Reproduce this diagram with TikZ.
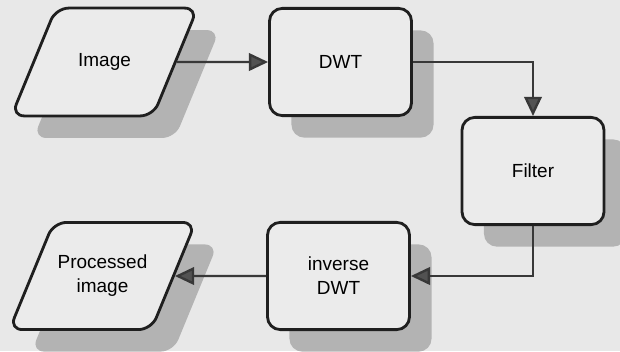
\documentclass[tikz,border=0pt]{standalone}
\usepackage{fontspec}
\setmainfont{Liberation Sans}
\usetikzlibrary{shapes.geometric,arrows.meta,shadows}
\definecolor{bg}{HTML}{E8E8E8}
\definecolor{boxfill}{HTML}{EBEBEB}
\definecolor{shade}{HTML}{B3B3B3}
\begin{document}
\begin{tikzpicture}[x=0.025cm,y=-0.025cm,
  proc/.style={draw=black!88, line width=2pt, rounded corners=0.32cm, fill=boxfill,
    align=center, font=\fontsize{13.5}{17}\selectfont, inner sep=0pt,
    general shadow={shadow xshift=0.55cm, shadow yshift=-0.55cm, fill=shade, draw=none}},
  box/.style={proc, rectangle, minimum width=3.55cm, minimum height=2.68cm},
  io/.style={proc, trapezium, trapezium left angle=67.6, trapezium right angle=112.4,
    trapezium stretches body, minimum width=4.65cm, inner xsep=0pt},
  link/.style={draw=black!78, line width=1.7pt,
    -{Triangle[length=4.8mm, width=4.4mm, fill=black!68]}}
]
\useasboundingbox (0,0) rectangle (620,351);
\clip (0,0) rectangle (620,351);
\fill[bg] (0,0) rectangle (620,351);
\node[io, inner ysep=32.3pt]  (img)  at (104.5,62) {Image};
\node[box] (dwt)  at (340.5,62) {DWT};
\node[box] (filt) at (533,171) {Filter};
\node[box] (inv)  at (338.5,276) {inverse\\DWT};
\node[io, inner ysep=23.3pt]  (out)  at (102.5,276) {Processed\\image};
\draw[link] (img.east) -- (dwt.west);
\draw[link] (dwt.east) -| (filt.north);
\draw[link] (filt.south) |- (inv.east);
\draw[link] (inv.west) -- (out.east);
\end{tikzpicture}
\end{document}
